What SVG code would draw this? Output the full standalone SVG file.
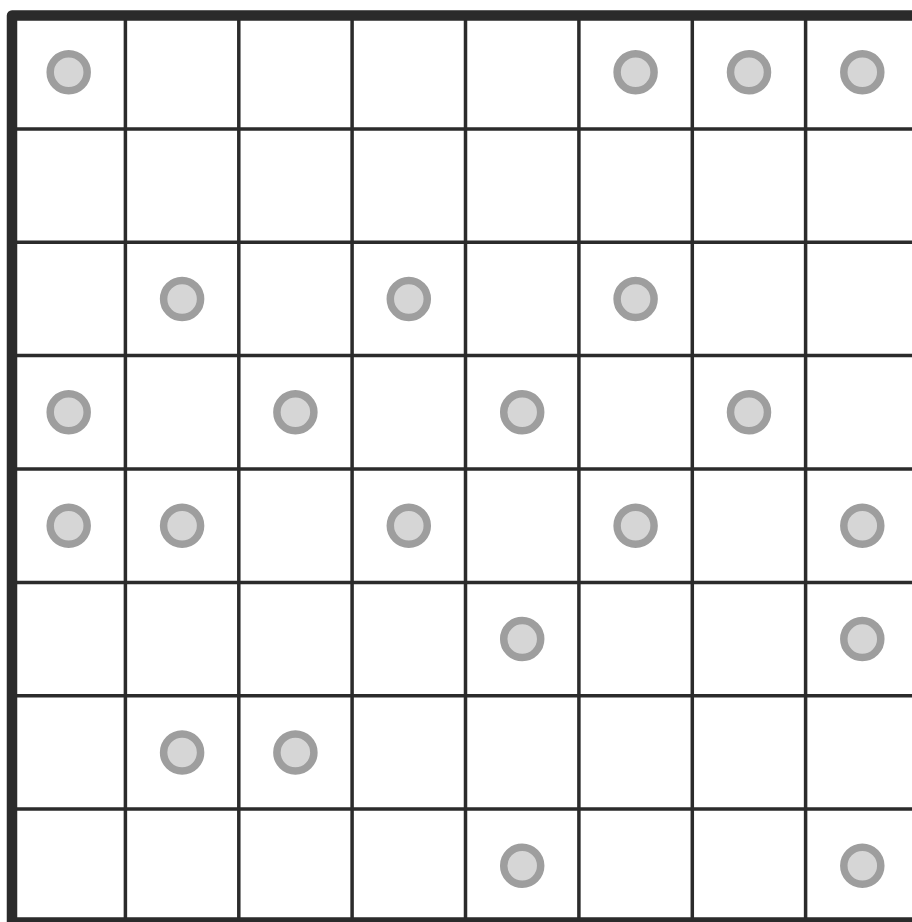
<svg xmlns="http://www.w3.org/2000/svg" width="912" height="922" viewBox="0 0 912 922">
<style>
.g{stroke:#2b2b2b;stroke-width:3.5;fill:none}
.b{stroke:#2b2b2b;stroke-width:10.5;fill:none;stroke-linejoin:round}
.c{fill:#d6d6d6;stroke:#9e9e9e;stroke-width:7.5}
</style>
<rect width="912" height="922" fill="#ffffff"/>
<g id="grid">
<path class="g" d="M125.4 15.5V922.5M238.8 15.5V922.5M352.1 15.5V922.5M465.5 15.5V922.5M578.9 15.5V922.5M692.3 15.5V922.5M805.6 15.5V922.5M12 128.9H919M12 242.3H919M12 355.6H919M12 469H919M12 582.4H919M12 695.8H919M12 809.1H919"/>
<rect class="b" x="12" y="15.5" width="907" height="907"/>
</g>
<g id="stones">
<circle class="c" cx="68.7" cy="72.2" r="18.5"/>
<circle class="c" cx="635.6" cy="72.2" r="18.5"/>
<circle class="c" cx="749" cy="72.2" r="18.5"/>
<circle class="c" cx="862.3" cy="72.2" r="18.5"/>
<circle class="c" cx="182.1" cy="299" r="18.5"/>
<circle class="c" cx="408.8" cy="299" r="18.5"/>
<circle class="c" cx="635.6" cy="299" r="18.5"/>
<circle class="c" cx="68.7" cy="412.3" r="18.5"/>
<circle class="c" cx="295.4" cy="412.3" r="18.5"/>
<circle class="c" cx="522.2" cy="412.3" r="18.5"/>
<circle class="c" cx="749" cy="412.3" r="18.5"/>
<circle class="c" cx="68.7" cy="525.7" r="18.5"/>
<circle class="c" cx="182.1" cy="525.7" r="18.5"/>
<circle class="c" cx="408.8" cy="525.7" r="18.5"/>
<circle class="c" cx="635.6" cy="525.7" r="18.5"/>
<circle class="c" cx="862.3" cy="525.7" r="18.5"/>
<circle class="c" cx="522.2" cy="639.1" r="18.5"/>
<circle class="c" cx="862.3" cy="639.1" r="18.5"/>
<circle class="c" cx="182.1" cy="752.5" r="18.5"/>
<circle class="c" cx="295.4" cy="752.5" r="18.5"/>
<circle class="c" cx="522.2" cy="865.8" r="18.5"/>
<circle class="c" cx="862.3" cy="865.8" r="18.5"/>
</g>
</svg>
